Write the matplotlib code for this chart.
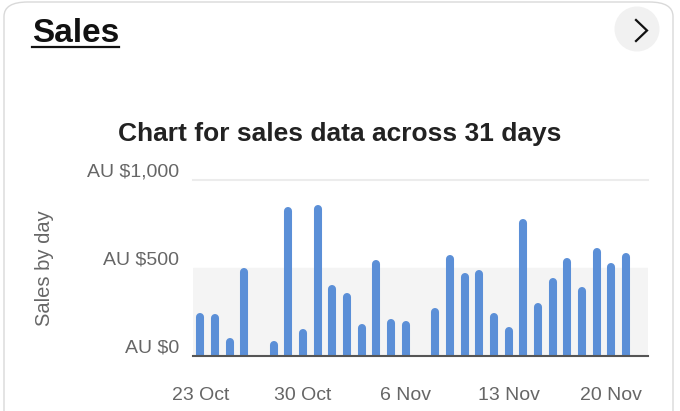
"""
Sales card: daily sales bar chart over 31 days, drawn as a dashboard tile.
"""

import matplotlib
matplotlib.use("Agg")
import matplotlib.pyplot as plt
from matplotlib.patches import FancyBboxPatch, Ellipse
from matplotlib.lines import Line2D

# ── Data ──────────────────────────────────────────────────────────────────────
days = list(range(31))                      # 23 Oct .. 22 Nov
sales = [243, 237, 104, 498, 0, 85, 848, 152, 858, 403, 360, 180, 545, 208, 199,
         0, 273, 574, 470, 489, 243, 166, 777, 299, 441, 555, 394, 612, 527, 583, 0]
tick_pos = [0, 7, 14, 21, 28]
tick_labels = ["23 Oct", "30 Oct", "6 Nov", "13 Nov", "20 Nov"]
y_ticks = [0, 500, 1000]
y_labels = ["AU $0", "AU $500", "AU $1,000"]

W, H = 680, 411
plt.rcParams["font.family"] = ["Liberation Sans", "DejaVu Sans"]

fig = plt.figure(figsize=(W / 100, H / 100), dpi=100)


def px(x, y):
    """Pixel coords (top-left origin) -> figure fraction."""
    return x / W, 1 - y / H


# ── Card frame ────────────────────────────────────────────────────────────────
card = FancyBboxPatch(px(4, 440), (673 - 4) / W, 438 / H,
                      boxstyle="round,pad=0,rounding_size=0.035",
                      transform=fig.transFigure, facecolor="white",
                      edgecolor="#d9d9d9", lw=1.0, zorder=-5)
fig.add_artist(card)

fig.text(*px(32, 33), "Sales", fontsize=24, fontweight="bold",
         color="#111111", ha="left", va="center")
fig.add_artist(Line2D([32 / W, 119 / W], [1 - 47 / H] * 2, color="#111111",
                      lw=1.6, transform=fig.transFigure))

fig.add_artist(Ellipse(px(637, 29), 45 / W, 45 / H, transform=fig.transFigure,
                       facecolor="#f1f1f1", edgecolor="none"))
cx = [636 / W, 647 / W, 636 / W]
cy = [1 - 20 / H, 1 - 30.5 / H, 1 - 41 / H]
fig.add_artist(Line2D(cx, cy, color="#111111", lw=1.6,
                      transform=fig.transFigure, solid_joinstyle="miter"))

fig.text(*px(340, 134), "Chart for sales data across 31 days", fontsize=19,
         fontweight="bold", color="#222222", ha="center", va="center")
fig.text(*px(45, 268), "Sales by day", fontsize=14.5, rotation=90,
         color="#666666", ha="center", va="center")

# ── Chart ─────────────────────────────────────────────────────────────────────
left, right, top, bottom = 193, 648, 180, 356
ax = fig.add_axes([left / W, 1 - bottom / H, (right - left) / W, (bottom - top) / H])
ax.set_facecolor("none")
ax.set_xlim(-0.5, 30.5)
ax.set_ylim(0, 1000)
ax.axhspan(0, 500, color="#f4f4f4", zorder=0)
ax.axhline(1000, color="#ececec", lw=1.5, clip_on=False, zorder=0)

# round caps add half the line width on top; pull the line end back so the
# cap tip sits on the value
bar_lw = 5.8
cap = (bar_lw / 72 * 100 / 2) * 1000 / (bottom - top)
ends = [max(v - cap, 0) if v > 0 else 0 for v in sales]
ax.vlines(days, 0, ends, colors="#5b8fd7", lw=bar_lw, capstyle="round", zorder=2)
ax.axhline(0, color="#555555", lw=1.5, clip_on=False, zorder=3)

for s in ax.spines.values():
    s.set_visible(False)
ax.set_xticks(tick_pos, tick_labels)
ax.set_yticks(y_ticks, y_labels)
ax.tick_params(length=0, labelsize=14, labelcolor="#666666")
ax.tick_params(axis="x", pad=22)
ax.tick_params(axis="y", pad=10)
plt.setp(ax.get_yticklabels(), va="bottom")

fig.savefig("out.png", dpi=100)
